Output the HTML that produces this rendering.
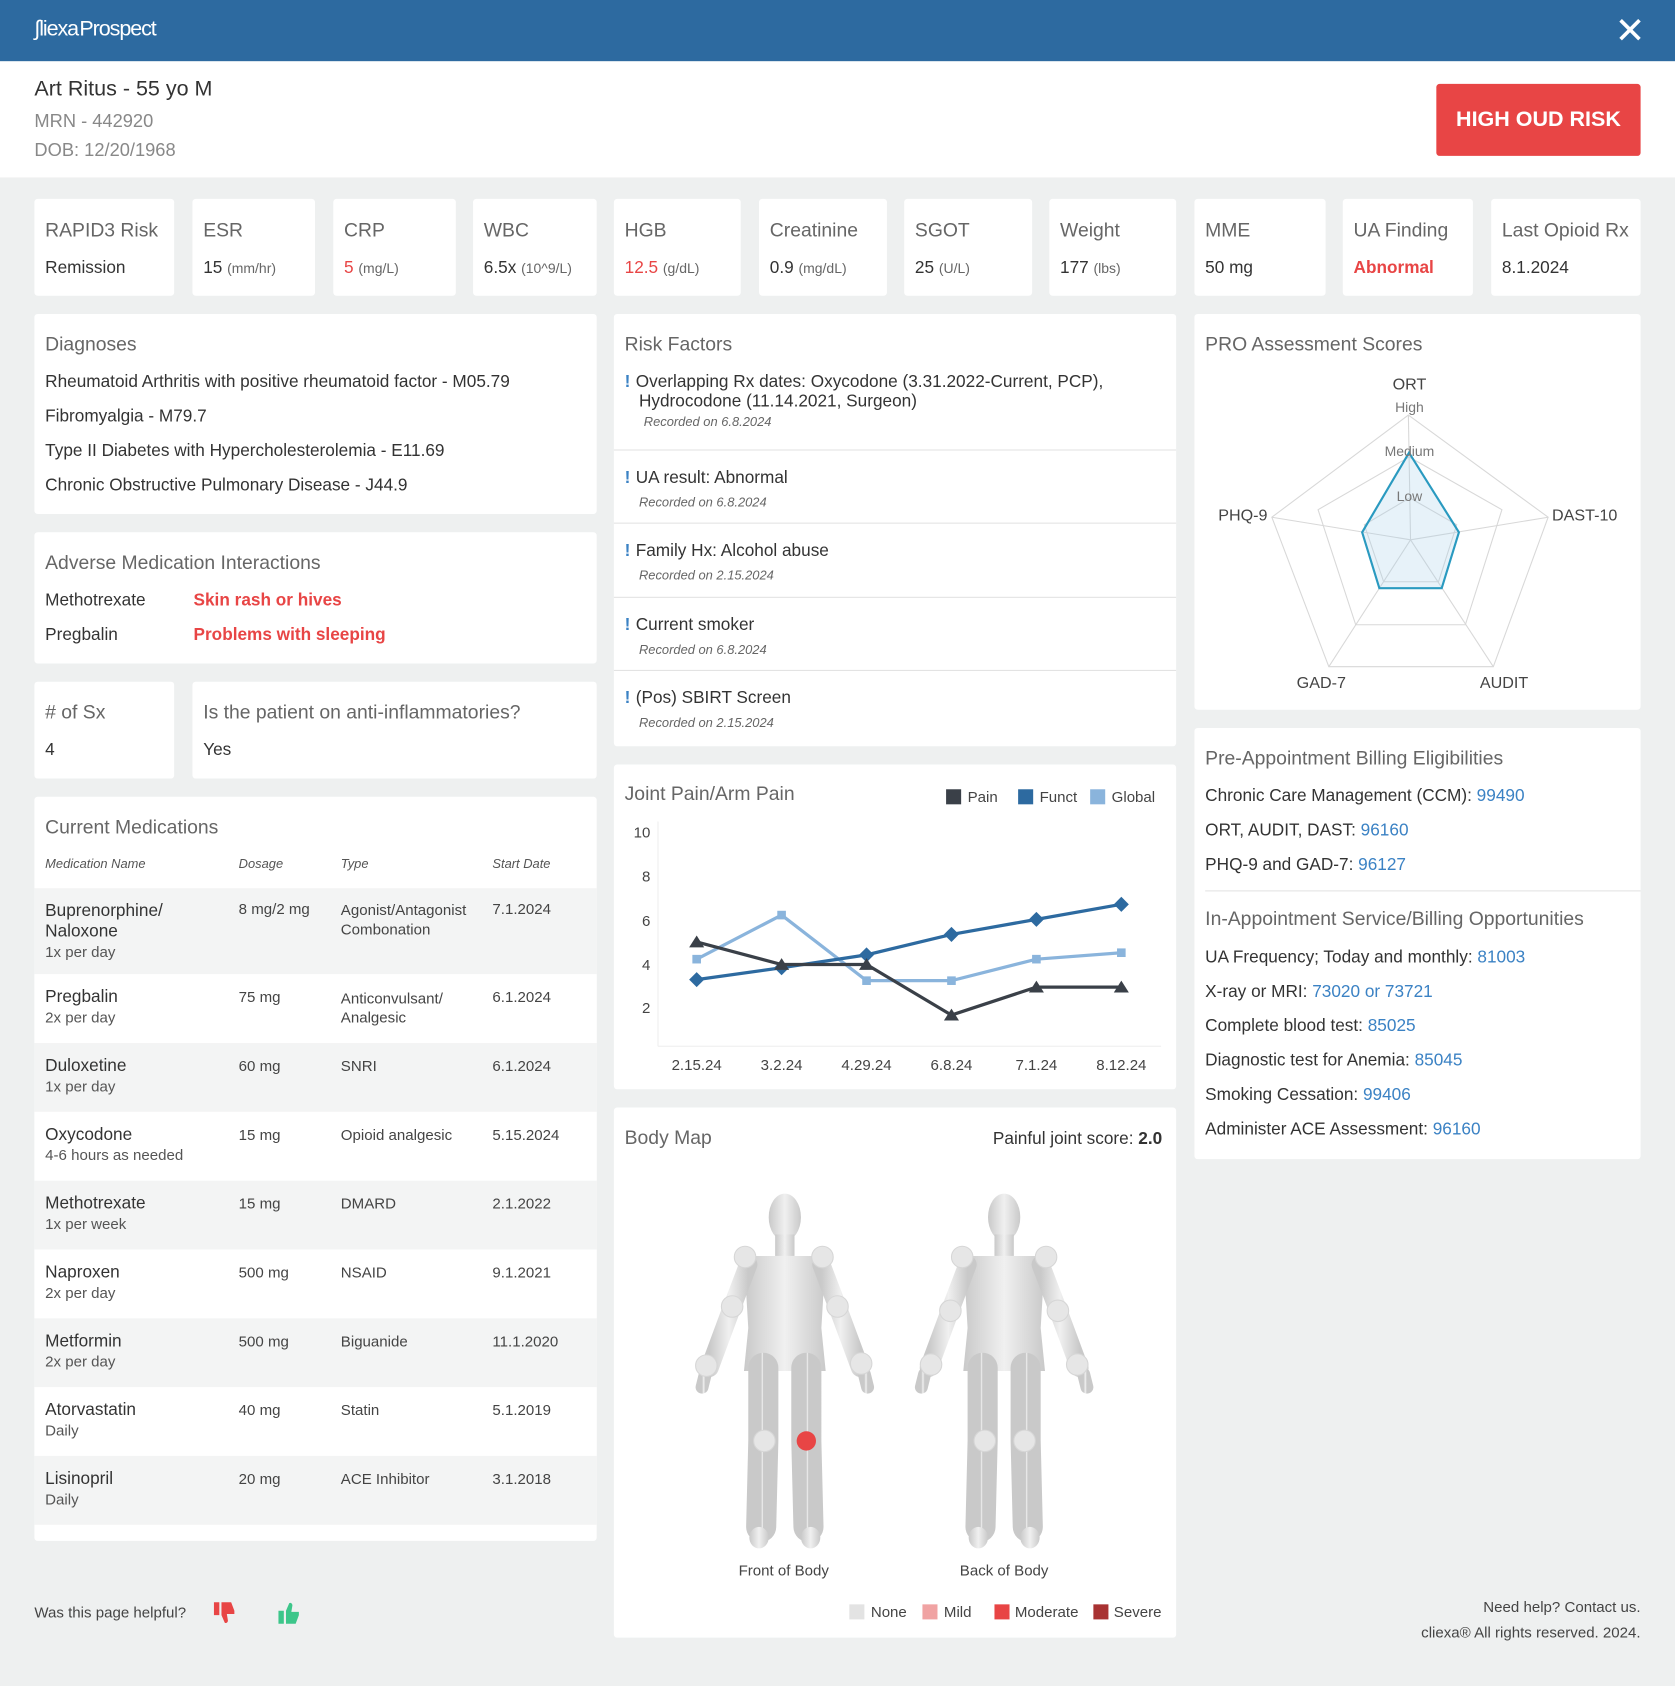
<!DOCTYPE html>
<html><head><meta charset="utf-8"><style>
html,body{margin:0;padding:0;width:1675px;height:1686px;overflow:hidden;background:#eef0f0;}
#w{position:absolute;left:0;top:0;width:1558px;height:1568px;transform:scale(1.0751,1.0753);transform-origin:0 0;font-family:"Liberation Sans",sans-serif;color:#333;background:#eef0f0;}
.a{position:absolute;}
.card{position:absolute;background:#fff;border-radius:3px;}
.t{position:absolute;font-size:18px;color:#666;white-space:nowrap;}
.v{position:absolute;font-size:16px;color:#333;white-space:nowrap;}
.u{font-size:13px;color:#666;}
.red{color:#e84545;}
.blue{color:#3b82c4;}
.rec{font-style:italic;font-size:12px;color:#666;}
.ex{color:#3b82c4;font-weight:bold;margin-right:5px;}
.th{position:absolute;font-size:12px;font-style:italic;color:#555;}
.mr{position:absolute;left:32px;width:523px;}
.mr div{position:absolute;font-size:14px;color:#444;}
.mr .n{font-size:16px;color:#333;left:10px;top:12px;line-height:19px;}
.mr .f{font-size:14px;color:#555;}
</style></head><body><div id="w">
<div class="a" style="left:0;top:0;width:1558px;height:57px;background:#2d6aa0;"></div>
<div class="a" style="left:32px;top:16px;color:#fff;font-size:20px;letter-spacing:-1px;">&#8747;liexa<span style="font-size:8px">&nbsp;</span>Prospect</div>
<div class="a" style="left:1502px;top:12px;color:#fff;font-size:34px;line-height:34px;font-weight:200;">&#10005;</div>
<div class="a" style="left:0;top:57px;width:1558px;height:108px;background:#fff;"></div>
<div class="a" style="left:32px;top:72px;font-size:20px;color:#333;">Art Ritus - 55 yo M</div>
<div class="a" style="left:32px;top:103px;font-size:17px;color:#888;">MRN - 442920</div>
<div class="a" style="left:32px;top:130px;font-size:17px;color:#888;">DOB: 12/20/1968</div>
<div class="a" style="left:1336px;top:78px;width:190px;height:67px;background:#e84545;border-radius:3px;color:#fff;font-weight:bold;font-size:20px;line-height:67px;text-align:center;">HIGH OUD RISK</div>

<!-- stat cards -->
<div class="card" style="left:32px;top:185px;width:130px;height:90px"><div class="t" style="left:10px;top:19px">RAPID3 Risk</div><div class="v" style="left:10px;top:56px">Remission</div></div>
<div class="card" style="left:179px;top:185px;width:114px;height:90px"><div class="t" style="left:10px;top:19px">ESR</div><div class="v" style="left:10px;top:56px">15 <span class="u">(mm/hr)</span></div></div>
<div class="card" style="left:310px;top:185px;width:114px;height:90px"><div class="t" style="left:10px;top:19px">CRP</div><div class="v" style="left:10px;top:56px"><span class="red">5</span> <span class="u">(mg/L)</span></div></div>
<div class="card" style="left:440px;top:185px;width:115px;height:90px"><div class="t" style="left:10px;top:19px">WBC</div><div class="v" style="left:10px;top:56px">6.5x <span class="u">(10^9/L)</span></div></div>
<div class="card" style="left:571px;top:185px;width:118px;height:90px"><div class="t" style="left:10px;top:19px">HGB</div><div class="v" style="left:10px;top:56px"><span class="red">12.5</span> <span class="u">(g/dL)</span></div></div>
<div class="card" style="left:706px;top:185px;width:119px;height:90px"><div class="t" style="left:10px;top:19px">Creatinine</div><div class="v" style="left:10px;top:56px">0.9 <span class="u">(mg/dL)</span></div></div>
<div class="card" style="left:841px;top:185px;width:119px;height:90px"><div class="t" style="left:10px;top:19px">SGOT</div><div class="v" style="left:10px;top:56px">25 <span class="u">(U/L)</span></div></div>
<div class="card" style="left:976px;top:185px;width:118px;height:90px"><div class="t" style="left:10px;top:19px">Weight</div><div class="v" style="left:10px;top:56px">177 <span class="u">(lbs)</span></div></div>
<div class="card" style="left:1111px;top:185px;width:122px;height:90px"><div class="t" style="left:10px;top:19px">MME</div><div class="v" style="left:10px;top:56px">50 mg</div></div>
<div class="card" style="left:1249px;top:185px;width:121px;height:90px"><div class="t" style="left:10px;top:19px">UA Finding</div><div class="v red" style="left:10px;top:56px;font-weight:bold">Abnormal</div></div>
<div class="card" style="left:1387px;top:185px;width:139px;height:90px"><div class="t" style="left:10px;top:19px">Last Opioid Rx</div><div class="v" style="left:10px;top:56px">8.1.2024</div></div>

<!-- Diagnoses -->
<div class="card" style="left:32px;top:292px;width:523px;height:186px">
<div class="t" style="left:10px;top:18px">Diagnoses</div>
<div class="v" style="left:10px;top:55px">Rheumatoid Arthritis with positive rheumatoid factor - M05.79</div>
<div class="v" style="left:10px;top:87px">Fibromyalgia - M79.7</div>
<div class="v" style="left:10px;top:119px">Type II Diabetes with Hypercholesterolemia - E11.69</div>
<div class="v" style="left:10px;top:151px">Chronic Obstructive Pulmonary Disease - J44.9</div>
</div>
<div class="card" style="left:32px;top:495px;width:523px;height:122px">
<div class="t" style="left:10px;top:18px">Adverse Medication Interactions</div>
<div class="v" style="left:10px;top:55px">Methotrexate</div><div class="v red" style="left:148px;top:55px;font-weight:bold">Skin rash or hives</div>
<div class="v" style="left:10px;top:87px">Pregbalin</div><div class="v red" style="left:148px;top:87px;font-weight:bold">Problems with sleeping</div>
</div>
<div class="card" style="left:32px;top:634px;width:130px;height:90px"><div class="t" style="left:10px;top:18px"># of Sx</div><div class="v" style="left:10px;top:55px">4</div></div>
<div class="card" style="left:179px;top:634px;width:376px;height:90px"><div class="t" style="left:10px;top:18px">Is the patient on anti-inflammatories?</div><div class="v" style="left:10px;top:55px">Yes</div></div>

<!-- Meds -->
<div class="card" style="left:32px;top:741px;width:523px;height:692px">
<div class="t" style="left:10px;top:18px">Current Medications</div>
<div class="th" style="left:10px;top:55px">Medication Name</div>
<div class="th" style="left:190px;top:55px">Dosage</div>
<div class="th" style="left:285px;top:55px">Type</div>
<div class="th" style="left:426px;top:55px">Start Date</div>
</div>
<div class="mr" style="top:826px;height:80px;background:#f3f4f4"><div class="n">Buprenorphine/<br>Naloxone<br><span class="f">1x per day</span></div><div style="left:190px;top:11px">8 mg/2 mg</div><div style="left:285px;top:11px;line-height:18px">Agonist/Antagonist<br>Combonation</div><div style="left:426px;top:11px">7.1.2024</div></div>
<div class="mr" style="top:906px;height:64px;background:#fff"><div class="n">Pregbalin<br><span class="f">2x per day</span></div><div style="left:190px;top:13px">75 mg</div><div style="left:285px;top:13px;line-height:18px">Anticonvulsant/<br>Analgesic</div><div style="left:426px;top:13px">6.1.2024</div></div>
<div class="mr" style="top:970px;height:64px;background:#f3f4f4"><div class="n">Duloxetine<br><span class="f">1x per day</span></div><div style="left:190px;top:13px">60 mg</div><div style="left:285px;top:13px">SNRI</div><div style="left:426px;top:13px">6.1.2024</div></div>
<div class="mr" style="top:1034px;height:64px;background:#fff"><div class="n">Oxycodone<br><span class="f">4-6 hours as needed</span></div><div style="left:190px;top:13px">15 mg</div><div style="left:285px;top:13px">Opioid analgesic</div><div style="left:426px;top:13px">5.15.2024</div></div>
<div class="mr" style="top:1098px;height:64px;background:#f3f4f4"><div class="n">Methotrexate<br><span class="f">1x per week</span></div><div style="left:190px;top:13px">15 mg</div><div style="left:285px;top:13px">DMARD</div><div style="left:426px;top:13px">2.1.2022</div></div>
<div class="mr" style="top:1162px;height:64px;background:#fff"><div class="n">Naproxen<br><span class="f">2x per day</span></div><div style="left:190px;top:13px">500 mg</div><div style="left:285px;top:13px">NSAID</div><div style="left:426px;top:13px">9.1.2021</div></div>
<div class="mr" style="top:1226px;height:64px;background:#f3f4f4"><div class="n">Metformin<br><span class="f">2x per day</span></div><div style="left:190px;top:13px">500 mg</div><div style="left:285px;top:13px">Biguanide</div><div style="left:426px;top:13px">11.1.2020</div></div>
<div class="mr" style="top:1290px;height:64px;background:#fff"><div class="n">Atorvastatin<br><span class="f">Daily</span></div><div style="left:190px;top:13px">40 mg</div><div style="left:285px;top:13px">Statin</div><div style="left:426px;top:13px">5.1.2019</div></div>
<div class="mr" style="top:1354px;height:64px;background:#f3f4f4"><div class="n">Lisinopril<br><span class="f">Daily</span></div><div style="left:190px;top:13px">20 mg</div><div style="left:285px;top:13px">ACE Inhibitor</div><div style="left:426px;top:13px">3.1.2018</div></div>

<!-- Risk factors -->
<div class="card" style="left:571px;top:292px;width:523px;height:402px">
<div class="t" style="left:10px;top:18px">Risk Factors</div>
<div class="v" style="left:10px;top:55px;line-height:18px"><span class="ex">!</span>Overlapping Rx dates: Oxycodone (3.31.2022-Current, PCP),<br>&nbsp;&nbsp;&nbsp;Hydrocodone (11.14.2021, Surgeon)<br>&nbsp;&nbsp;&nbsp;&nbsp;<span class="rec">Recorded on 6.8.2024</span></div>
<div class="a" style="left:0;top:126px;width:523px;height:1px;background:#e3e3e3"></div>
<div class="v" style="left:10px;top:142px;line-height:22px"><span class="ex">!</span>UA result: Abnormal<br>&nbsp;&nbsp;&nbsp;<span class="rec">Recorded on 6.8.2024</span></div>
<div class="a" style="left:0;top:194px;width:523px;height:1px;background:#e3e3e3"></div>
<div class="v" style="left:10px;top:210px;line-height:22px"><span class="ex">!</span>Family Hx: Alcohol abuse<br>&nbsp;&nbsp;&nbsp;<span class="rec">Recorded on 2.15.2024</span></div>
<div class="a" style="left:0;top:263px;width:523px;height:1px;background:#e3e3e3"></div>
<div class="v" style="left:10px;top:279px;line-height:22px"><span class="ex">!</span>Current smoker<br>&nbsp;&nbsp;&nbsp;<span class="rec">Recorded on 6.8.2024</span></div>
<div class="a" style="left:0;top:331px;width:523px;height:1px;background:#e3e3e3"></div>
<div class="v" style="left:10px;top:347px;line-height:22px"><span class="ex">!</span>(Pos) SBIRT Screen<br>&nbsp;&nbsp;&nbsp;<span class="rec">Recorded on 2.15.2024</span></div>
</div>

<!-- Chart card -->
<div class="card" style="left:571px;top:711px;width:523px;height:302px"><div class="t" style="left:10px;top:17px">Joint Pain/Arm Pain</div></div>
<svg class="a" style="left:0;top:0" width="1558" height="1568">
<g font-family="Liberation Sans, sans-serif" font-size="14" fill="#444">
<rect x="880" y="734" width="14" height="14" fill="#3a4048"/><text x="900" y="746">Pain</text>
<rect x="947" y="734" width="14" height="14" fill="#2d6aa0"/><text x="967" y="746">Funct</text>
<rect x="1014" y="734" width="14" height="14" fill="#8ab4dc"/><text x="1034" y="746">Global</text>
<line x1="612" y1="764" x2="612" y2="973" stroke="#eee"/><line x1="612" y1="973" x2="1080" y2="973" stroke="#eee"/>
<g text-anchor="end"><text x="605" y="779">10</text><text x="605" y="820">8</text><text x="605" y="861">6</text><text x="605" y="902">4</text><text x="605" y="942">2</text></g>
<g text-anchor="middle"><text x="648" y="995">2.15.24</text><text x="727" y="995">3.2.24</text><text x="806" y="995">4.29.24</text><text x="885" y="995">6.8.24</text><text x="964" y="995">7.1.24</text><text x="1043" y="995">8.12.24</text></g>
</g>
<polyline points="648,892 727,851 806,912 885,912 964,892 1043,886" fill="none" stroke="#8ab4dc" stroke-width="3"/>
<g fill="#8ab4dc"><rect x="644" y="888" width="8" height="8"/><rect x="723" y="847" width="8" height="8"/><rect x="802" y="908" width="8" height="8"/><rect x="881" y="908" width="8" height="8"/><rect x="960" y="888" width="8" height="8"/><rect x="1039" y="882" width="8" height="8"/></g>
<polyline points="648,911 727,900 806,888 885,869 964,855 1043,841" fill="none" stroke="#2d6aa0" stroke-width="3"/>
<g fill="#2d6aa0"><path d="M648 904l7 7-7 7-7-7z"/><path d="M727 893l7 7-7 7-7-7z"/><path d="M806 881l7 7-7 7-7-7z"/><path d="M885 862l7 7-7 7-7-7z"/><path d="M964 848l7 7-7 7-7-7z"/><path d="M1043 834l7 7-7 7-7-7z"/></g>
<polyline points="648,876 727,897 806,897 885,944 964,918 1043,918" fill="none" stroke="#3a4048" stroke-width="3"/>
<g fill="#3a4048"><path d="M648 870l7 11h-14z"/><path d="M727 891l7 11h-14z"/><path d="M806 891l7 11h-14z"/><path d="M885 938l7 11h-14z"/><path d="M964 912l7 11h-14z"/><path d="M1043 912l7 11h-14z"/></g>
</svg>

<!-- Body map -->
<div class="card" style="left:571px;top:1030px;width:523px;height:493px">
<div class="t" style="left:10px;top:18px">Body Map</div>
<div class="v" style="right:13px;top:21px">Painful joint score: <b>2.0</b></div>
</div>
<svg class="a" style="left:0;top:0" width="1558" height="1568">
<defs><linearGradient id="g" x1="0" x2="1"><stop offset="0" stop-color="#c9c9c9"/><stop offset=".5" stop-color="#f0f0f0"/><stop offset="1" stop-color="#c9c9c9"/></linearGradient>
<g id="body" fill="url(#g)" stroke="url(#g)" stroke-linecap="round" stroke-linejoin="round">
<ellipse cx="0" cy="1132" rx="15" ry="22" stroke="none"/>
<rect x="-9" y="1148" width="18" height="20" stroke="none"/>
<path d="M-38 1168 L38 1168 L34 1235 L38 1275 L-38 1275 L-34 1235 Z" stroke="none"/>
<polyline points="-34,1176 -50,1218 -70,1272" fill="none" stroke-width="17"/>
<polyline points="34,1176 50,1218 70,1272" fill="none" stroke-width="17"/>
<polyline points="-20,1272 -20,1340 -22,1420" fill="none" stroke-width="28"/>
<polyline points="20,1272 20,1340 22,1420" fill="none" stroke-width="28"/>
<polyline points="-74,1278 -77,1290" fill="none" stroke-width="12"/><polyline points="74,1278 77,1290" fill="none" stroke-width="12"/>
<ellipse cx="-24" cy="1430" rx="9" ry="10" stroke="none"/><ellipse cx="24" cy="1430" rx="9" ry="10" stroke="none"/>
</g></defs>
<use href="#body" x="730"/><use href="#body" x="934"/>
<g fill="#e6e6e6" stroke="#d6d6d6">
<circle cx="693" cy="1169" r="10"/><circle cx="765" cy="1169" r="10"/><circle cx="681" cy="1215" r="10"/><circle cx="779" cy="1215" r="10"/><circle cx="657" cy="1270" r="10"/><circle cx="801" cy="1268" r="10"/><circle cx="711" cy="1340" r="10"/>
<circle cx="895" cy="1169" r="10"/><circle cx="973" cy="1169" r="10"/><circle cx="884" cy="1219" r="10"/><circle cx="984" cy="1219" r="10"/><circle cx="866" cy="1269" r="10"/><circle cx="1002" cy="1269" r="10"/><circle cx="916" cy="1340" r="10"/><circle cx="953" cy="1340" r="10"/>
</g>
<circle cx="750" cy="1340" r="9" fill="#e84545"/>
<g font-family="Liberation Sans, sans-serif" font-size="14" fill="#444">
<text x="729" y="1465" text-anchor="middle">Front of Body</text><text x="934" y="1465" text-anchor="middle">Back of Body</text>
<rect x="790" y="1492" width="14" height="14" fill="#e3e3e3"/><text x="810" y="1504">None</text>
<rect x="858" y="1492" width="14" height="14" fill="#f0a3a3"/><text x="878" y="1504">Mild</text>
<rect x="925" y="1492" width="14" height="14" fill="#e84545"/><text x="944" y="1504">Moderate</text>
<rect x="1017" y="1492" width="14" height="14" fill="#a83232"/><text x="1036" y="1504">Severe</text>
</g>
</svg>

<!-- PRO -->
<div class="card" style="left:1111px;top:292px;width:415px;height:368px"><div class="t" style="left:10px;top:18px">PRO Assessment Scores</div></div>
<svg class="a" style="left:0;top:0" width="1558" height="1568">
<g fill="none" stroke="#d8d8d8">
<polygon points="1310,386 1440,481 1389,620 1236,620 1183,481"/>
<polygon points="1310.7,425 1397,474 1363,581 1261,581 1226,474"/>
<polygon points="1311.3,463 1355,488 1338,541 1287,541 1269,488"/>
<line x1="1312" y1="502" x2="1310" y2="386"/><line x1="1312" y1="502" x2="1440" y2="481"/><line x1="1312" y1="502" x2="1389" y2="620"/><line x1="1312" y1="502" x2="1236" y2="620"/><line x1="1312" y1="502" x2="1183" y2="481"/>
</g>
<polygon points="1310.6,421 1357,495 1341,547 1283,547 1267,495" fill="rgba(160,205,230,.25)" stroke="#2a9ac0" stroke-width="2"/>
<g font-family="Liberation Sans, sans-serif" fill="#444" text-anchor="middle">
<text x="1311" y="362" font-size="15">ORT</text>
<text x="1311" y="383" font-size="13" fill="#777">High</text>
<text x="1311" y="424" font-size="13" fill="#777">Medium</text>
<text x="1311" y="466" font-size="13" fill="#777">Low</text>
<text x="1156" y="484" font-size="15">PHQ-9</text>
<text x="1474" y="484" font-size="15">DAST-10</text>
<text x="1229" y="640" font-size="15">GAD-7</text>
<text x="1399" y="640" font-size="15">AUDIT</text>
</g></svg>

<!-- Billing -->
<div class="card" style="left:1111px;top:677px;width:415px;height:401px">
<div class="t" style="left:10px;top:18px">Pre-Appointment Billing Eligibilities</div>
<div class="v" style="left:10px;top:55px">Chronic Care Management (CCM): <span class="blue">99490</span></div>
<div class="v" style="left:10px;top:87px">ORT, AUDIT, DAST: <span class="blue">96160</span></div>
<div class="v" style="left:10px;top:119px">PHQ-9 and GAD-7: <span class="blue">96127</span></div>
<div class="a" style="left:10px;top:151px;width:405px;height:1px;background:#e3e3e3"></div>
<div class="t" style="left:10px;top:167px">In-Appointment Service/Billing Opportunities</div>
<div class="v" style="left:10px;top:205px">UA Frequency; Today and monthly: <span class="blue">81003</span></div>
<div class="v" style="left:10px;top:237px">X-ray or MRI: <span class="blue">73020 or 73721</span></div>
<div class="v" style="left:10px;top:269px">Complete blood test: <span class="blue">85025</span></div>
<div class="v" style="left:10px;top:301px">Diagnostic test for Anemia: <span class="blue">85045</span></div>
<div class="v" style="left:10px;top:333px">Smoking Cessation: <span class="blue">99406</span></div>
<div class="v" style="left:10px;top:365px">Administer ACE Assessment: <span class="blue">96160</span></div>
</div>

<!-- Footer -->
<div class="a" style="left:32px;top:1491px;font-size:14px;color:#444">Was this page helpful?</div>
<svg class="a" style="left:196px;top:1488px" width="100" height="24">
<path d="M3 2h5v12H3z M10 2h9l3 8v3h-7l1 6c0 2-2 3-3 2l-3-7z" fill="#e84545"/>
<path d="M63 10h5v12h-5z M70 10l3-7c1-1 3 0 3 2l-1 6h7v3l-3 8h-9z" fill="#3cc68a"/>
</svg>
<div class="a" style="right:32px;top:1482px;font-size:14px;color:#444;text-align:right;line-height:24px">Need help? Contact us.<br>cliexa® All rights reserved. 2024.</div>
</div></body></html>
